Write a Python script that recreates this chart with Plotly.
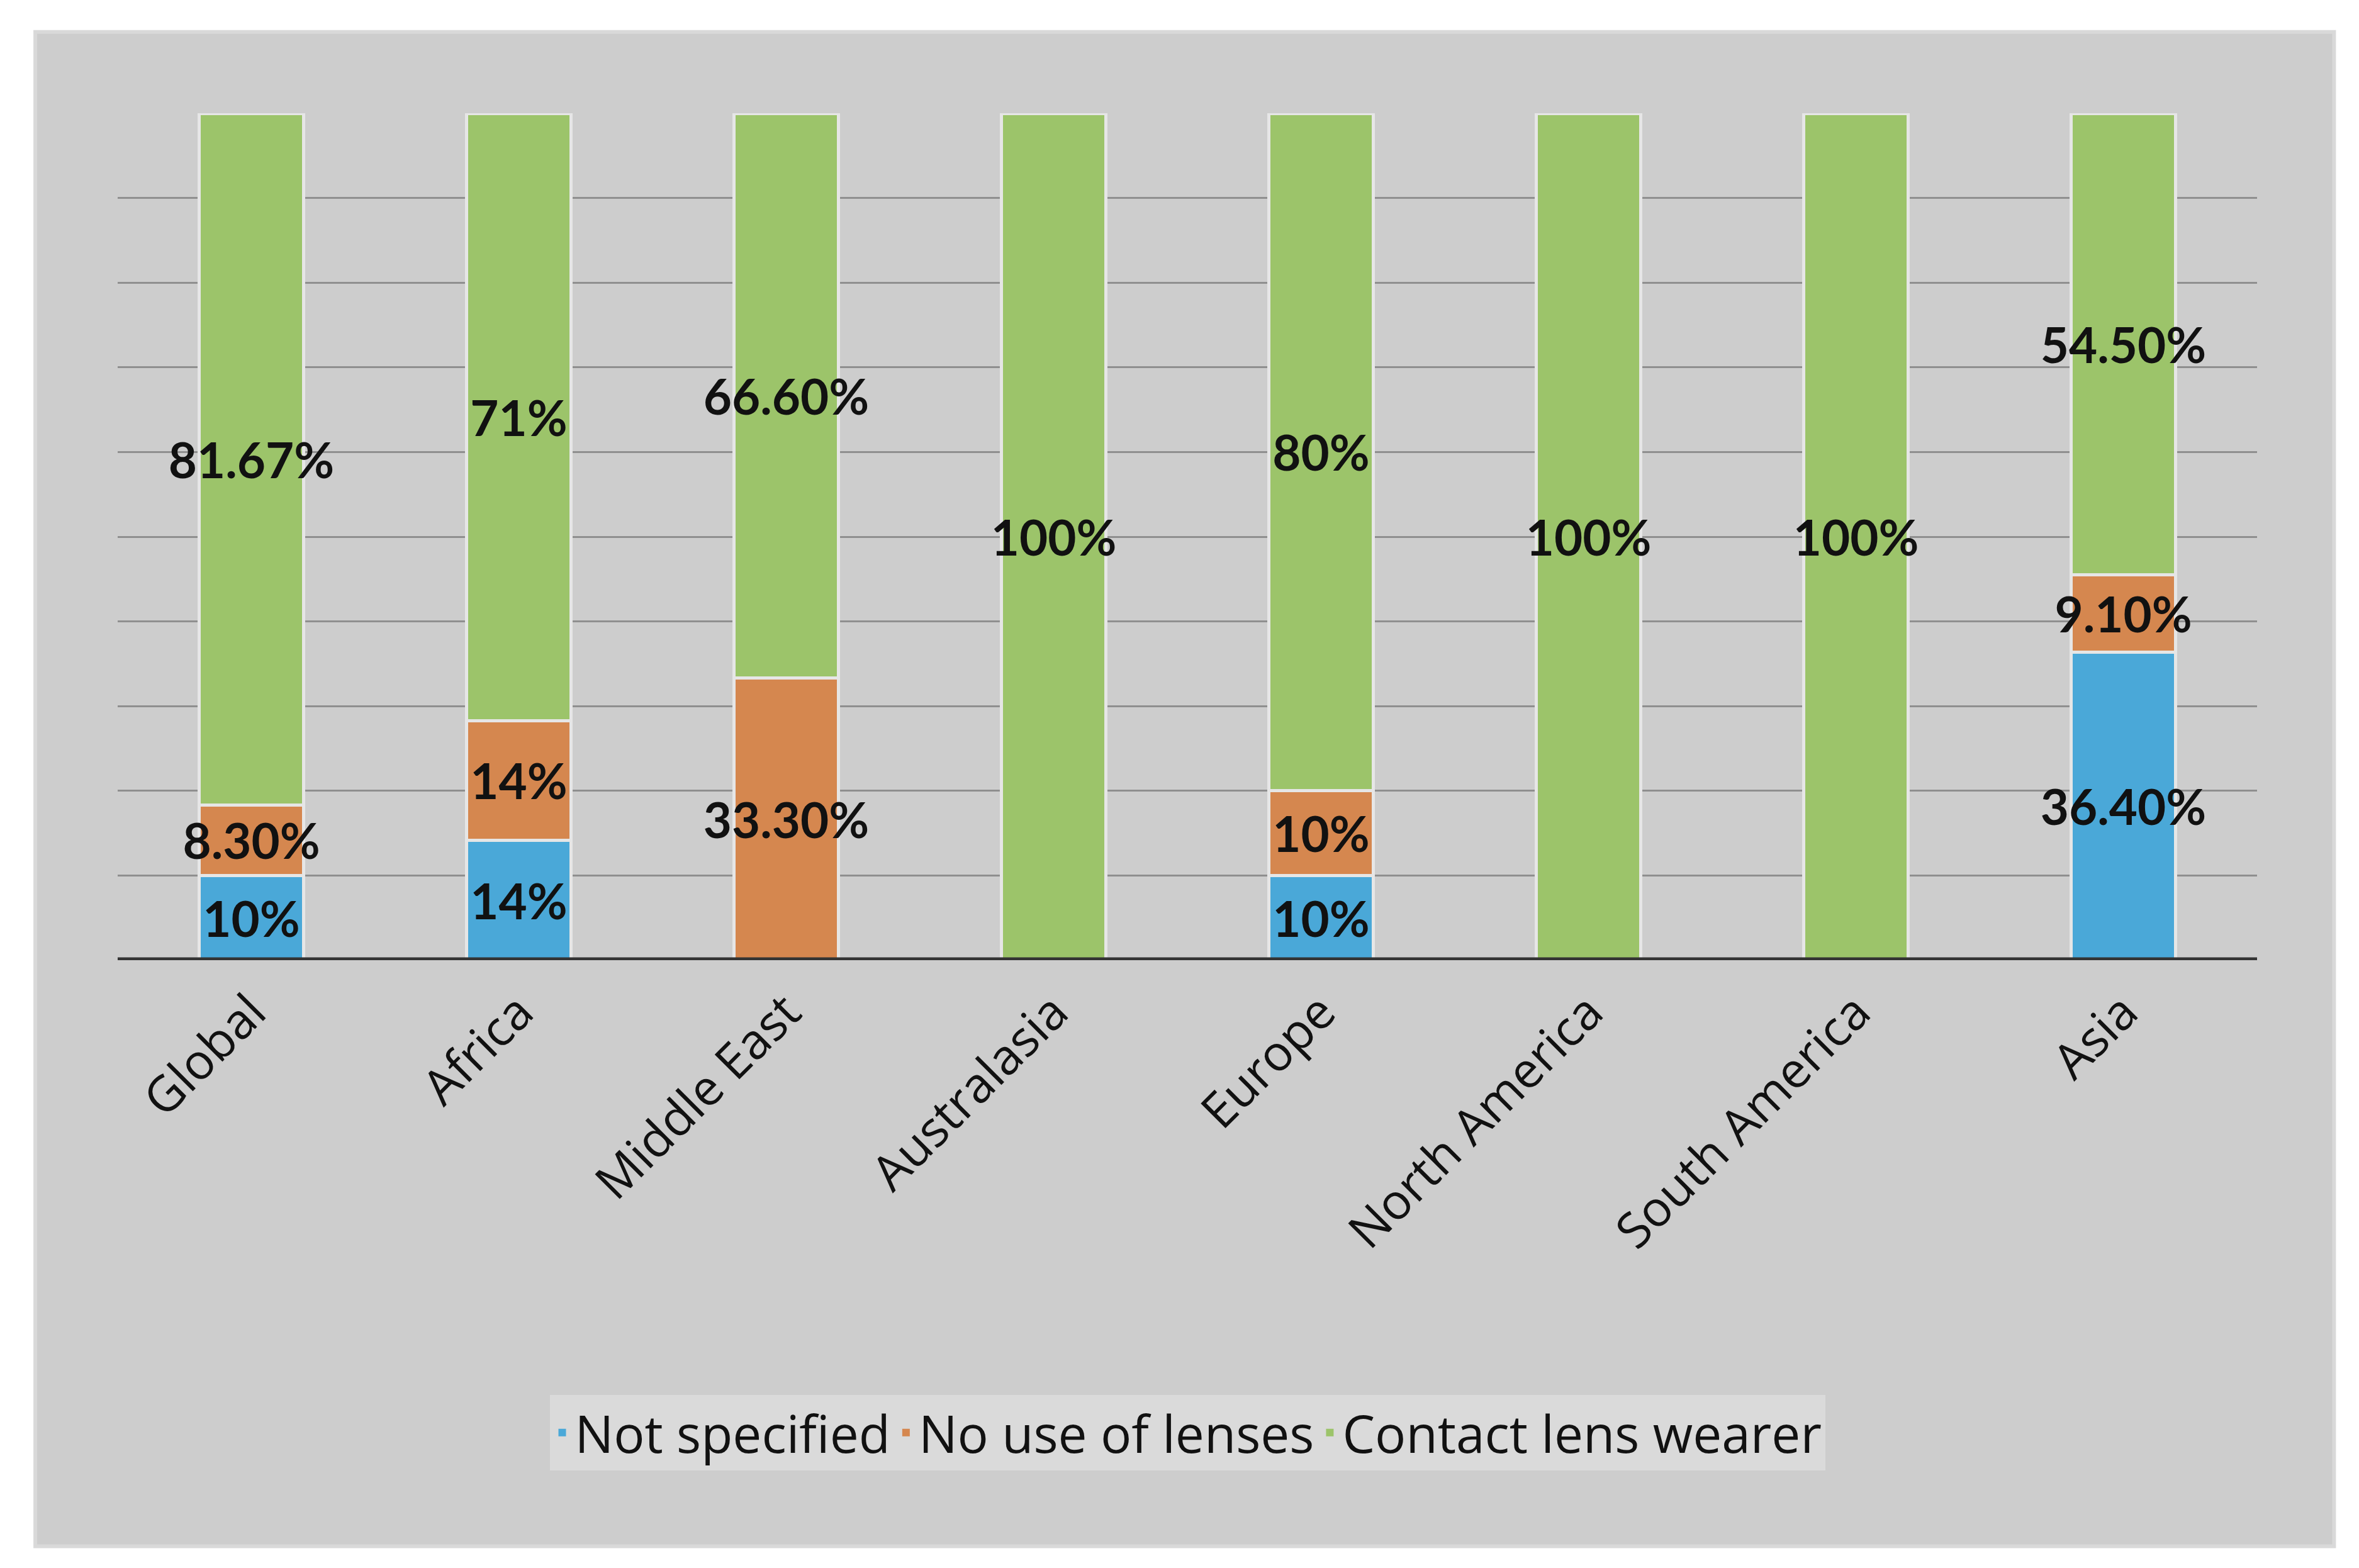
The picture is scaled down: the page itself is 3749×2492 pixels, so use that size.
import plotly.graph_objects as go

categories = ["Global", "Africa", "Middle East", "Australasia", "Europe", "North America", "South America", "Asia"]
not_specified = [10, 14, 0, 0, 10, 0, 0, 36.4]
no_use = [8.3, 14, 33.3, 0, 10, 0, 0, 9.1]
wearer = [81.67, 71, 66.6, 100, 80, 100, 100, 54.5]
ns_text = ["10%", "14%", "", "", "10%", "", "", "36.40%"]
nu_text = ["8.30%", "14%", "33.30%", "", "10%", "", "", "9.10%"]
w_text = ["81.67%", "71%", "66.60%", "100%", "80%", "100%", "100%", "54.50%"]

series = [
    ("Not specified", not_specified, ns_text, "#4aa8d8"),
    ("No use of lenses", no_use, nu_text, "#d5874f"),
    ("Contact lens wearer", wearer, w_text, "#9cc46a"),
]

fig = go.Figure()
for name, vals, txt, col in series:
    fig.add_trace(go.Bar(
        x=categories, y=vals, name=name, text=txt, marker_color=col,
        marker_line=dict(color="#e6e6e6", width=5), showlegend=False,
        textposition="inside", insidetextanchor="middle", constraintext="none",
        textangle=0, textfont=dict(family="Lato", size=78, color="#111111", weight="bold"),
        width=0.39,
    ))
for name, vals, txt, col in series:
    fig.add_trace(go.Scatter(
        x=[None], y=[None], mode="markers", name=name,
        marker=dict(symbol="square", size=44, color=col),
    ))

fig.update_layout(
    width=3749, height=2492, barmode="stack", barnorm="percent",
    paper_bgcolor="white", plot_bgcolor="rgba(0,0,0,0)",
    margin=dict(l=179, r=170, t=172, b=974),
    font=dict(family="Open Sans", color="#111111"),
    showlegend=True,
    legend=dict(orientation="h", x=0.5, xanchor="center", y=-0.558, yanchor="middle",
                traceorder="normal", bgcolor="#dadada",
                font=dict(size=82, family="Open Sans"), itemsizing="constant"),
    xaxis=dict(tickangle=-45, tickfont=dict(size=78, family="Open Sans"), showline=False,
               ticks="", ticklabelstandoff=20),
    yaxis=dict(range=[0, 100], dtick=10, showticklabels=False, gridcolor="#8f8f8f", gridwidth=3,
               zeroline=False, showline=False),
    shapes=[
        dict(type="rect", xref="paper", yref="paper", x0=-0.0385, x1=1.036,
             y0=-0.692, y1=1.096, fillcolor="#cdcdcd",
             line=dict(color="#d9d9d9", width=6), layer="below"),
        dict(type="line", xref="paper", yref="y", x0=0, x1=1, y0=0, y1=0,
             line=dict(color="#333333", width=9), layer="above"),
    ],
)
fig.write_html("out.html")
